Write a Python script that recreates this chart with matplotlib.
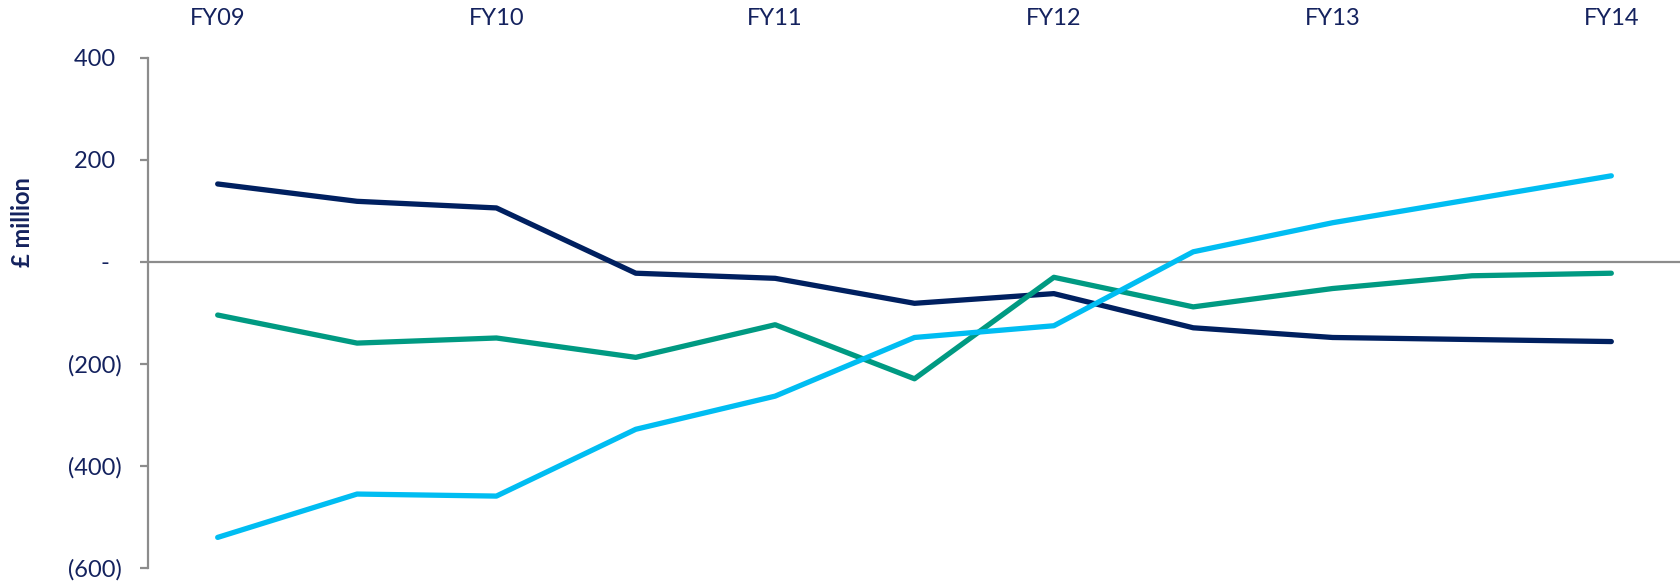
import matplotlib.pyplot as plt
from matplotlib.ticker import FixedLocator, FuncFormatter

plt.rcParams['font.family'] = ['Lato', 'DejaVu Sans']

# half-yearly points, FY09 .. FY14
periods = ['FY09', 'H2 FY09', 'FY10', 'H2 FY10', 'FY11', 'H2 FY11',
           'FY12', 'H2 FY12', 'FY13', 'H2 FY13', 'FY14']
top_labels = ['FY09', 'FY10', 'FY11', 'FY12', 'FY13', 'FY14']

navy_vals = [153, 119, 106, -22, -32, -81, -62, -129, -148, -152, -156]
teal_vals = [-104, -159, -149, -187, -123, -229, -30, -88, -52, -27, -22]
blue_vals = [-540, -455, -459, -328, -263, -148, -125, 20, 77, 123, 169]

text_col = '#14225e'
navy = '#002060'
teal = '#009a82'
blue = '#00bdf2'
grey = '#8c8c8c'

fig = plt.figure(figsize=(16.81, 5.84), dpi=100)
ax = fig.add_axes([148 / 1681, 16 / 584, 1 - 148 / 1681, 510 / 584])

x = list(range(len(periods)))
for vals, col in [(navy_vals, navy), (teal_vals, teal), (blue_vals, blue)]:
    ax.plot(x, vals, color=col, lw=3.8, solid_capstyle='round',
            solid_joinstyle='round', zorder=3)

ax.axhline(0, color=grey, lw=1.6, zorder=2)

ax.set_xlim(-0.5, len(periods) - 0.5)
ax.set_ylim(-600, 400)

for s in ['top', 'right', 'bottom']:
    ax.spines[s].set_visible(False)
ax.spines['left'].set_color(grey)
ax.spines['left'].set_linewidth(1.6)


def money(v, pos):
    if v == 0:
        return '-  '
    if v < 0:
        return '({:,.0f})'.format(-v)
    return '{:,.0f} '.format(v)


ax.yaxis.set_major_locator(FixedLocator([-600, -400, -200, 0, 200, 400]))
ax.yaxis.set_major_formatter(FuncFormatter(money))
ax.tick_params(axis='y', length=6, width=1.6, color=grey, pad=13,
               labelsize=17, labelcolor=text_col)

ax.xaxis.tick_top()
ax.set_xticks(x[::2])
ax.set_xticklabels(top_labels)
ax.tick_params(axis='x', length=0, pad=21, labelsize=17, labelcolor=text_col)

fig.text(23 / 1681, 1 - 222 / 584, '£ million', rotation=90, ha='center',
         va='center', fontsize=17, fontweight='bold', color=text_col)

fig.savefig('out.png', dpi=100)
